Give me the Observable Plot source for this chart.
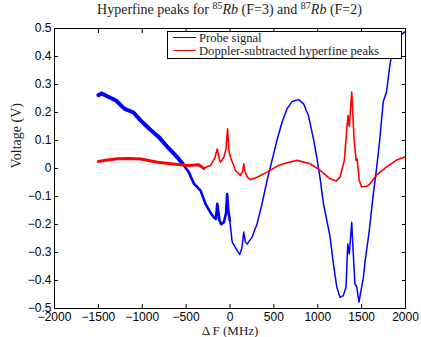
<!DOCTYPE html>
<html><head><meta charset="utf-8">
<script src="https://cdn.jsdelivr.net/npm/d3@7"></script>
<script src="https://cdn.jsdelivr.net/npm/@observablehq/plot@0.6"></script>
<style>
body{margin:0;background:#fff;}
#wrap{position:relative;width:421px;height:337px;overflow:hidden;}
#title{position:absolute;left:54px;width:351px;top:2px;text-align:center;font-family:"Liberation Serif",serif;font-size:14px;line-height:16px;color:#222;white-space:nowrap;}
#title sup{font-size:10px;vertical-align:5px;line-height:0;}
#chart{position:absolute;left:0;top:20px;}
#legend{position:absolute;left:167px;top:31px;width:233px;height:26px;border:1px solid #000;background:#fff;font-family:"Liberation Serif",serif;font-size:12.6px;color:#222;}
.row{position:absolute;left:5px;height:13px;line-height:13px;white-space:nowrap;}
.row span.sw{display:inline-block;width:23px;height:0;border-top:1.5px solid;vertical-align:4px;margin-right:3px;}
</style></head>
<body>
<div id="wrap">
<div id="title">Hyperfine peaks for <sup>85</sup><i>Rb</i> (F=3) and <sup>87</sup><i>Rb</i> (F=2)</div>
<div id="chart"></div>
<div id="legend">
<div class="row" style="top:0px"><span class="sw" style="border-color:#0000ff"></span>Probe signal</div>
<div class="row" style="top:13px"><span class="sw" style="border-color:#ff0000"></span>Doppler-subtracted hyperfine peaks</div>
</div>
</div>
<script>
const seriesNames = ["Probe signal", "Doppler-subtracted hyperfine peaks"];
const probeX = [-1500,-1460,-1400,-1300,-1200,-1100,-1016,-920,-810,-710,-600,-540,-470,-410,-370,-335,-280,-225,-185,-160,-145,-120,-100,-70,-45,-32,-20,-2,25,82,111,135,157,175,195,252,309,365,422,479,536,593,650,706,781,838,894,951,989,1027,1065,1100,1141,1178,1217,1254,1291,1322,1342,1360,1387,1405,1424,1445,1470,1500,1520,1540,1580,1632,1670,1708,1746,1784,1822,1860,1920,2000];
const probeV = [0.262,0.268,0.258,0.243,0.213,0.200,0.171,0.142,0.112,0.076,0.040,0.017,-0.013,-0.055,-0.067,-0.079,-0.126,-0.156,-0.174,-0.180,-0.126,-0.185,-0.199,-0.192,-0.160,-0.091,-0.150,-0.186,-0.263,-0.293,-0.307,-0.285,-0.227,-0.262,-0.270,-0.245,-0.197,-0.126,-0.043,0.029,0.102,0.165,0.213,0.239,0.246,0.231,0.189,0.106,0.040,-0.035,-0.126,-0.180,-0.245,-0.340,-0.424,-0.460,-0.454,-0.424,-0.270,-0.305,-0.192,-0.305,-0.412,-0.424,-0.477,-0.424,-0.390,-0.330,-0.240,-0.095,0.000,0.107,0.238,0.274,0.369,0.440,0.470,0.490];
const dopX = [-1500,-1400,-1280,-1150,-1016,-826,-675,-486,-354,-297,-250,-221,-176,-145,-120,-108,-70,-45,-28,-10,6,62,119,145,157,170,195,233,309,422,554,611,763,914,1027,1141,1209,1254,1303,1330,1345,1360,1387,1413,1436,1448,1473,1500,1557,1595,1670,1784,1898,2000];
const dopV = [0.025,0.030,0.035,0.036,0.034,0.022,0.017,0.011,0.013,0.000,0.008,0.011,0.035,0.070,0.030,0.023,0.040,0.070,0.142,0.060,0.040,-0.007,-0.025,-0.010,0.017,-0.010,-0.030,-0.040,-0.031,-0.013,0.011,0.017,0.029,0.017,-0.007,-0.037,-0.045,-0.031,0.029,0.136,0.189,0.150,0.273,0.112,0.029,0.035,-0.043,-0.065,-0.064,-0.055,-0.024,0.006,0.030,0.042];
const xTicks = [-2000,-1500,-1000,-500,0,500,1000,1500,2000];
const yTicks = [-0.5,-0.4,-0.3,-0.2,-0.1,0,0.1,0.2,0.3,0.4,0.5];
const xLabel = "Δ F (MHz)";
const yLabel = "Voltage (V)";

const probe = probeX.map((x,i)=>({x, v: probeV[i]}));
const dop = dopX.map((x,i)=>({x, v: dopV[i]}));
const fmt = d => d === 0 ? "0" : (Number.isInteger(d) ? String(d) : d.toFixed(1)).replace("-", "\u2212");
const serif = "Liberation Serif";
const sans = "Liberation Sans";

const chart = Plot.plot({
  width: 421, height: 317,
  marginLeft: 54, marginRight: 16, marginTop: 8, marginBottom: 29,
  x: {domain: [-2000, 2000]},
  y: {domain: [-0.5, 0.5]},
  style: {fontFamily: sans, fontSize: "12px", color: "#000", background: "#fff"},
  marks: [
    Plot.line(probe.filter(d => d.x <= -500), {x: "x", y: "v", stroke: "#0000ff", strokeWidth: 4}),
    Plot.line(probe.filter(d => d.x >= -540 && d.x <= 0), {x: "x", y: "v", stroke: "#0000ff", strokeWidth: 2.6}),
    Plot.line(probe.filter(d => d.x >= -2), {x: "x", y: "v", stroke: "#0000ff", strokeWidth: 1.5}),
    Plot.line(dop.filter(d => d.x <= -297), {x: "x", y: "v", stroke: "#ff0000", strokeWidth: 3}),
    Plot.line(dop.filter(d => d.x >= -354), {x: "x", y: "v", stroke: "#ff0000", strokeWidth: 1.6}),
    Plot.frame({stroke: "#000", strokeWidth: 1}),
    Plot.axisX(xTicks, {anchor: "bottom", tickSize: -4, tickPadding: 8, tickFormat: fmt, fontSize: 12, fontFamily: sans, label: null}),
    Plot.axisX(xTicks, {anchor: "top", tickSize: -4, tickFormat: () => "", label: null}),
    Plot.axisY(yTicks, {anchor: "left", tickSize: -4, tickPadding: 7, tickFormat: fmt, fontSize: 12, fontFamily: sans, label: null}),
    Plot.axisY(yTicks, {anchor: "right", tickSize: -4, tickFormat: () => "", label: null}),
    Plot.text([xLabel], {frameAnchor: "bottom", dy: 22.5, fontFamily: serif, fontSize: 13, fill: "#222", lineAnchor: "middle"}),
    Plot.text([yLabel], {frameAnchor: "left", dx: -38, rotate: -90, fontFamily: serif, fontSize: 14, fill: "#222"})
  ]
});
document.getElementById("chart").appendChild(chart);
</script>
</body></html>
